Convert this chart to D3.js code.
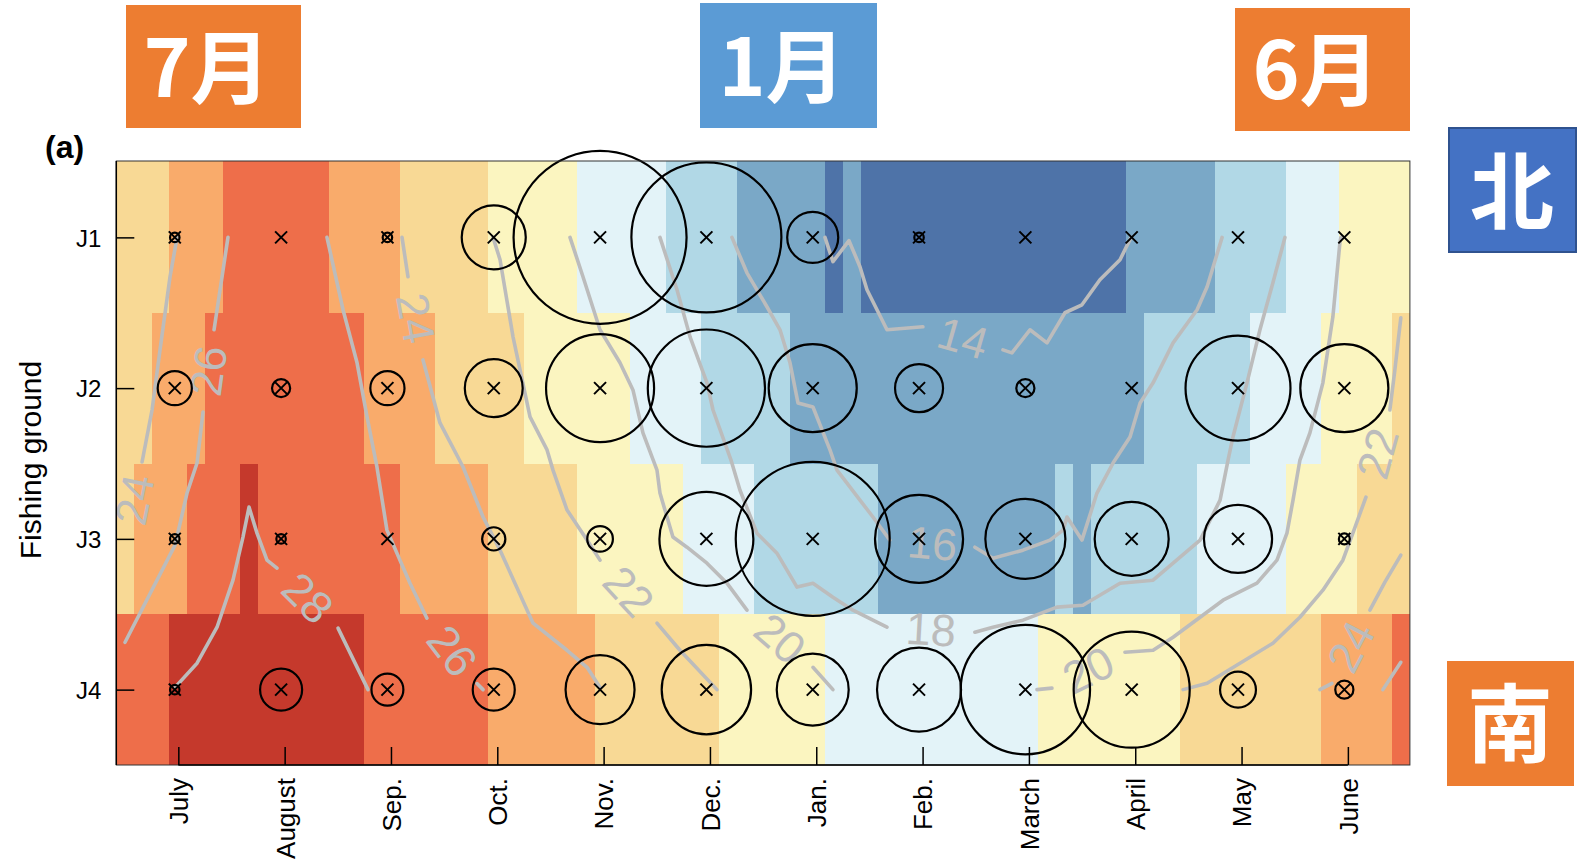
<!DOCTYPE html>
<html>
<head>
<meta charset="utf-8">
<script src="https://cdn.jsdelivr.net/npm/d3@7"></script>
<style>
  html, body { margin: 0; padding: 0; background: #ffffff; }
  svg { display: block; }
</style>
</head>
<body>
<svg id="chart" width="1584" height="862"></svg>
<script>
// ---- data -------------------------------------------------------------
const months  = ["July", "August", "Sep.", "Oct.", "Nov.", "Dec.", "Jan.", "Feb.", "March", "April", "May", "June"];
const grounds = ["J1", "J2", "J3", "J4"];

// Sea surface temperature (deg C) for each pentad, starting 3 pentads before the July tick
const sstJ1 = [23,23,23, 25,25,25, 27,27,27,27,27,27, 25,25,25,25, 23,23,23,23,23,
               21,21,21,21,21, 19,19,19,19,19, 17,17,17,17, 15,15,15,15,15, 13, 15,
               13,13,13,13,13,13,13,13,13,13,13,13,13,13,13, 15,15,15,15,15,
               17,17,17,17, 19,19,19, 21,21,21,21];
const sstJ2 = [23,23, 25,25,25, 27,27,27,27,27,27,27,27,27, 25,25,25,25, 23,23,23,23,23,
               21,21,21,21,21,21, 19,19,19,19, 17,17,17,17,17,
               15,15,15,15,15,15,15,15,15,15,15,15,15,15,15,15,15,15,15,15,
               17,17,17,17,17,17, 19,19,19,19, 21,21,21,21, 23];
const sstJ3 = [23, 25,25,25, 27,27,27, 29, 27,27,27,27,27,27,27,27, 25,25,25,25,25,
               23,23,23,23,23, 21,21,21,21,21,21, 19,19,19,19, 17,17,17,17,17,17,17,
               15,15,15,15,15,15,15,15,15,15, 17, 15, 17,17,17,17,17,17,
               19,19,19,19,19, 21,21,21,21, 23,23,23];
const sstJ4 = [27,27,27, 29,29,29,29,29,29,29,29,29,29,29, 27,27,27,27,27,27,27,
               25,25,25,25,25,25, 23,23,23,23,23,23,23, 21,21,21,21,21,21,
               19,19,19,19,19,19,19,19,19,19,19,19, 21,21,21,21,21,21,21,21,
               23,23,23,23,23,23,23,23, 25,25,25,25, 27];

// Relative catch per month (July..June) for each fishing ground
const catchJ1 = [0.003, 0,     0.003, 0.137, 1.000, 0.752, 0.087, 0.003, 0,     0,     0,     0];
const catchJ2 = [0.039, 0.011, 0.039, 0.112, 0.390, 0.459, 0.259, 0.077, 0.011, 0,     0.368, 0.259];
const catchJ3 = [0.003, 0.003, 0,     0.018, 0.022, 0.295, 0.792, 0.259, 0.214, 0.183, 0.155, 0.004];
const catchJ4 = [0.003, 0.059, 0.034, 0.059, 0.159, 0.267, 0.173, 0.236, 0.559, 0.450, 0.043, 0.011];

// Isotherms: points as [month since July, fishing ground index], gap = segment left open for the label
const iso14  = { level: 14, gap: 6,  pts: [[6.082,1],[6.157,1.161],[6.308,1.022],[6.411,1.195],[6.477,1.347],[6.665,1.613],[7.003,1.593],[7.756,1.746],[7.840,1.766],[8.010,1.613],[8.170,1.700],[8.339,1.500],[8.499,1.447],[8.668,1.281],[8.857,1.148],[8.961,1]] };
const iso16  = { level: 16, gap: 12, pts: [[5.207,1],[5.348,1.235],[5.536,1.460],[5.659,1.613],[5.753,1.832],[5.828,2.098],[5.969,2.125],[6.129,2.410],[6.195,2.544],[6.289,2.630],[6.411,2.743],[6.533,2.855],[6.692,3.008],[7.492,3.055],[7.661,3.128],[7.944,3.075],[8.198,3.008],[8.321,2.942],[8.358,2.855],[8.499,3.008],[8.640,2.696],[8.791,2.497],[8.951,2.324],[9.046,2.098],[9.168,1.965],[9.356,1.700],[9.582,1.480],[9.676,1.328],[9.817,1]] };
const iso18  = { level: 18, gap: 13, pts: [[4.530,1],[4.690,1.347],[4.813,1.660],[4.972,1.965],[5.029,2.145],[5.198,2.477],[5.282,2.676],[5.442,2.962],[5.630,3.095],[5.819,3.320],[5.969,3.294],[6.157,3.387],[6.345,3.473],[6.665,3.586],[7.492,3.619],[7.661,3.586],[7.944,3.539],[8.264,3.453],[8.508,3.440],[8.857,3.294],[9.168,3.274],[9.356,3.161],[9.610,3.008],[9.798,2.743],[9.873,2.477],[9.919,2.324],[10.051,1.965],[10.173,1.613],[10.295,1.301],[10.408,1]] };
const iso20a = { level: 20, gap: 12, pts: [[3.684,1],[3.806,1.261],[3.966,1.613],[4.154,1.832],[4.276,2.012],[4.370,2.297],[4.502,2.544],[4.530,2.696],[4.652,2.988],[4.784,3.055],[4.972,3.161],[5.160,3.294],[5.348,3.473],[5.969,3.852],[6.157,4]] };
const iso20b = { level: 20, gap: 1,  pts: [[8.076,4],[8.217,3.990],[8.903,3.752],[9.168,3.739],[9.356,3.653],[9.610,3.520],[9.826,3.407],[10.145,3.294],[10.333,3.141],[10.427,2.962],[10.484,2.743],[10.549,2.477],[10.643,2.297],[10.765,1.965],[10.859,1.527],[10.925,1.035],[10.934,1]] };
const iso22a = { level: 22, gap: 8,  pts: [[2.960,1],[3.026,1.148],[3.148,1.660],[3.308,2.191],[3.468,2.410],[3.524,2.544],[3.656,2.809],[3.844,3.008],[3.966,3.141],[4.502,3.559],[4.718,3.739],[5.066,4]] };
const iso22b = { level: 22, gap: 8,  pts: [[9.450,4],[9.676,3.958],[9.985,3.825],[10.295,3.692],[10.549,3.520],[10.765,3.340],[10.953,3.141],[11.047,2.962],[11.170,2.723],[11.395,2.145],[11.442,1.879],[11.498,1.533]] };
const iso24a = { level: 24, gap: 4,  pts: [[-0.012,1],[-0.078,1.261],[-0.172,1.746],[-0.247,2.145],[-0.341,2.490],[-0.482,2.990]] };
const iso24b = { level: 24, gap: 1,  pts: [[2.104,1],[2.160,1.261],[2.301,1.813],[2.461,2.231],[2.678,2.523],[2.866,2.855],[3.026,3.075],[3.336,3.559],[3.656,3.739],[3.844,3.852],[3.966,3.985]] };
const iso24c = { level: 24, gap: 1,  pts: [[10.737,4],[10.850,3.958],[11.207,3.473],[11.348,3.287],[11.498,3.108]] };
const iso26a = { level: 26, gap: 1,  pts: [[0.467,1],[0.336,1.613],[0.232,2.159],[0.176,2.497],[0.082,2.696],[-0.031,3.041],[-0.501,3.686]] };
const iso26b = { level: 26, gap: 7,  pts: [[1.398,1],[1.549,1.480],[1.681,1.832],[1.775,2.191],[1.868,2.523],[1.962,2.942],[2.179,3.294],[2.338,3.526],[2.809,3.960],[2.866,4]] };
const iso26c = { level: 26, gap: -1, pts: [[11.329,4],[11.498,3.819]] };
const iso28  = { level: 28, gap: 8,  pts: [[-0.031,3.985],[0.176,3.825],[0.364,3.586],[0.514,3.274],[0.608,2.988],[0.665,2.789],[0.740,2.962],[0.834,3.141],[0.928,3.194],[1.502,3.592],[1.784,4]] };

// ---- setup ------------------------------------------------------------
const sstRows   = [sstJ1, sstJ2, sstJ3, sstJ4];
const catchRows = [catchJ1, catchJ2, catchJ3, catchJ4];
const isotherms = [iso14, iso16, iso18, iso20a, iso20b, iso22a, iso22b, iso24a, iso24b, iso24c, iso26a, iso26b, iso26c, iso28];

const svg = d3.select("#chart");
const FONT = "'Liberation Sans', Arial, Helvetica, sans-serif";
const CJK  = "'Noto Sans CJK JP', 'Noto Sans CJK SC', sans-serif";

const plotL = 116.3, plotR = 1409.9, plotT = 162, plotB = 765;
const PENT = 1 / 6;                       // one pentad in months
const x = d3.scaleLinear().domain([-3.5 * PENT, 11 + 3.5 * PENT]).range([plotL, plotR]);
const y = d3.scaleLinear().domain([0.5, 4.5]).range([plotT, plotB]);
const colour = d3.scaleThreshold()
  .domain([14, 16, 18, 20, 22, 24, 26, 28])
  .range(["#4e73a8", "#7aa8c7", "#b1d8e6", "#e3f3f8", "#fbf5c0", "#f8d995", "#f9ab6b", "#ee6e4a", "#c5392c"]);
const radius = d3.scaleSqrt().domain([0, 1]).range([0, 86.5]);

// ---- SST heat map -----------------------------------------------------
svg.append("defs").append("clipPath").attr("id", "plotClip")
  .append("rect").attr("x", plotL).attr("y", plotT - 1).attr("width", plotR - plotL).attr("height", plotB - plotT + 1);

const heat = svg.append("g").attr("clip-path", "url(#plotClip)").attr("shape-rendering", "crispEdges");
sstRows.forEach((row, gi) => {
  heat.selectAll(null).data(row).join("rect")
    .attr("x", (v, k) => x((k - 3.5) * PENT))
    .attr("width", (v, k) => x((k - 2.5) * PENT) - x((k - 3.5) * PENT) + 0.6)
    .attr("y", y(gi + 0.5) - (gi === 0 ? 1 : 0))
    .attr("height", y(gi + 1.5) - y(gi + 0.5) + 0.6 + (gi === 0 ? 1 : 0))
    .attr("fill", v => colour(v));
});

// ---- isotherms --------------------------------------------------------
const line = d3.line().x(d => x(d[0])).y(d => y(d[1]));
const iso = svg.append("g");
isotherms.forEach(c => {
  const parts = c.gap < 0 ? [c.pts] : [c.pts.slice(0, c.gap + 1), c.pts.slice(c.gap + 1)];
  parts.filter(p => p.length > 1).forEach(p => {
    iso.append("path").attr("d", line(p))
      .attr("fill", "none").attr("stroke", "#bcbcbc").attr("stroke-width", 3.6)
      .attr("stroke-linecap", "round").attr("stroke-linejoin", "round");
  });
  if (c.gap >= 0) {
    const a = c.pts[c.gap], b = c.pts[c.gap + 1];
    const ax = x(a[0]), ay = y(a[1]), bx = x(b[0]), by = y(b[1]);
    let ang = Math.atan2(by - ay, bx - ax) * 180 / Math.PI;
    if (ang > 90) ang -= 180;
    if (ang < -90) ang += 180;
    iso.append("text")
      .attr("transform", `translate(${(ax + bx) / 2},${(ay + by) / 2}) rotate(${ang})`)
      .attr("text-anchor", "middle").attr("dominant-baseline", "central")
      .attr("font-family", FONT).attr("font-size", 45).attr("fill", "#bcbcbc")
      .text(c.level);
  }
});

// ---- catch circles and month markers ----------------------------------
const markerShift = -1 / 30;             // markers sit one day before the month tick
const marks = svg.append("g");
catchRows.forEach((row, gi) => {
  row.forEach((v, mi) => {
    const cx = x(mi + markerShift), cy = y(gi + 1);
    if (v > 0) {
      marks.append("circle").attr("cx", cx).attr("cy", cy).attr("r", radius(v))
        .attr("fill", "none").attr("stroke", "#000").attr("stroke-width", 2.2);
    }
    marks.append("path").attr("d", "M-6,-6L6,6M6,-6L-6,6")
      .attr("transform", `translate(${cx},${cy})`)
      .attr("stroke", "#000").attr("stroke-width", 2).attr("fill", "none");
  });
});

// ---- frame and axes ---------------------------------------------------
svg.append("rect").attr("x", plotL).attr("y", plotT - 1).attr("width", plotR - plotL).attr("height", plotB - plotT + 1)
  .attr("fill", "none").attr("stroke", "#333").attr("stroke-width", 1);

const xAxis = svg.append("g").attr("transform", `translate(0,${plotB})`)
  .call(d3.axisBottom(x).tickValues(d3.range(months.length)).tickFormat(i => months[i])
    .tickSizeInner(-18).tickSizeOuter(0));
xAxis.select(".domain").remove();
xAxis.selectAll(".tick line").attr("stroke", "#000").attr("stroke-width", 1.5);
xAxis.selectAll(".tick text")
  .attr("transform", "rotate(-90)").attr("text-anchor", "end")
  .attr("x", -13).attr("y", 0).attr("dy", "0.36em")
  .attr("font-family", FONT).attr("font-size", 26).attr("fill", "#000");
xAxis.append("line").attr("x1", x(0)).attr("x2", x(months.length - 1)).attr("y1", 0).attr("y2", 0)
  .attr("stroke", "#000").attr("stroke-width", 1.5);

const yAxis = svg.append("g").attr("transform", `translate(${plotL},0)`)
  .call(d3.axisLeft(y).tickValues([1, 2, 3, 4]).tickFormat(g => grounds[g - 1])
    .tickSizeInner(-18).tickSizeOuter(0).tickPadding(15));
yAxis.select(".domain").remove();
yAxis.selectAll(".tick line").attr("stroke", "#000").attr("stroke-width", 1.5);
yAxis.selectAll(".tick text").attr("font-family", FONT).attr("font-size", 24).attr("fill", "#000")
  .attr("x", -15).attr("dy", "0.36em");
yAxis.append("line").attr("x1", 0).attr("x2", 0).attr("y1", plotT - 1).attr("y2", plotB)
  .attr("stroke", "#000").attr("stroke-width", 1.5);

svg.append("text").attr("transform", "translate(41,460) rotate(-90)")
  .attr("text-anchor", "middle").attr("font-family", FONT).attr("font-size", 30).attr("fill", "#000")
  .text("Fishing ground");

svg.append("text").attr("x", 45).attr("y", 158)
  .attr("font-family", FONT).attr("font-size", 32).attr("font-weight", "bold").attr("fill", "#000")
  .text("(a)");

// ---- season and direction tags ----------------------------------------
function tag(x0, y0, w, h, fill, stroke, label, tx, ty, size, central) {
  svg.append("rect").attr("x", x0).attr("y", y0).attr("width", w).attr("height", h)
    .attr("fill", fill).attr("stroke", stroke || "none").attr("stroke-width", stroke ? 2 : 0);
  svg.append("text").attr("x", tx).attr("y", ty)
    .attr("text-anchor", "middle").attr("dominant-baseline", central ? "central" : "alphabetic")
    .attr("font-family", CJK).attr("font-weight", "bold").attr("font-size", size).attr("fill", "#fff")
    .text(label);
}
tag(126, 5, 175, 123, "#ed7d31", null, "7月", 207, 97, 80, false);
tag(700, 3, 177, 125, "#5b9bd5", null, "1月", 782, 96, 80, false);
tag(1235, 8, 175, 123, "#ed7d31", null, "6月", 1316, 99, 80, false);
tag(1449, 128, 127, 124, "#4472c4", "#2f528f", "北", 1512, 186, 84, true);
tag(1447, 661, 127, 125, "#ed7d31", null, "南", 1510, 718, 86, true);
</script>
</body>
</html>
